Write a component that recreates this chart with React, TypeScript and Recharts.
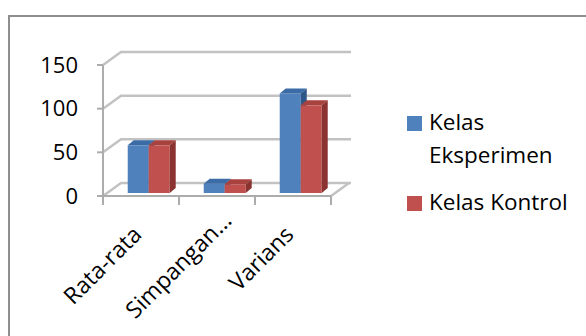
import { BarChart, Bar, XAxis, YAxis, CartesianGrid, Legend, ReferenceLine } from "recharts";

const categories = ["Rata-rata", "Simpangan Baku", "Varians"];
const kelasEksperimen = [54.6, 10.7, 114];
const kelasKontrol = [54.6, 10, 100.4];
const yTicks = [0, 50, 100, 150];

const data = categories.map((name, i) => ({
  name,
  eksperimen: kelasEksperimen[i],
  kontrol: kelasKontrol[i],
}));

const FONT = "'Open Sans', sans-serif";
const AXIS = "#acacac";
const GRID = "#c2c2c2";
// fake 3d depth of the walls and of the bars
const WALL_DX = 18;
const WALL_DY = 13;
const BAR_DX = 6;
const BAR_DY = 5;
const SHIFT_X = 8;
const SHIFT_Y = 3;

const box = (front: string, top: string, side: string) => (p: any) => {
  const x = p.x + SHIFT_X;
  const y = p.y - SHIFT_Y;
  const w = p.width;
  const h = p.height;
  if (!w || h == null) return <g />;
  return (
    <g>
      <rect x={x} y={y} width={w} height={h} fill={front} />
      <polygon
        points={`${x},${y} ${x + BAR_DX},${y - BAR_DY} ${x + w + BAR_DX},${y - BAR_DY} ${x + w},${y}`}
        fill={top}
      />
      <polygon
        points={`${x + w},${y} ${x + w + BAR_DX},${y - BAR_DY} ${x + w + BAR_DX},${y + h - BAR_DY} ${x + w},${y + h}`}
        fill={side}
      />
    </g>
  );
};

const wallLine = (p: any) => (
  <polyline
    key={`wall-${p.index}`}
    points={`${p.x1},${p.y1} ${p.x1 + WALL_DX},${p.y1 - WALL_DY} ${p.x2 + WALL_DX + 2},${p.y1 - WALL_DY}`}
    fill="none"
    stroke={GRID}
    strokeWidth={2.5}
  />
);

const floorEdge = (p: any) => (
  <line
    x1={p.x2}
    y1={p.y1}
    x2={p.x2 + WALL_DX}
    y2={p.y1 - WALL_DY}
    stroke={GRID}
    strokeWidth={2.5}
  />
);

const MAX_LABEL = 10;

const CategoryTick = (props: any) => {
  const { x, y, payload, index, visibleTicksCount } = props;
  const half = payload.offset ?? 38;
  const raw = String(payload.value);
  const cut = raw.length > MAX_LABEL;
  const label = cut ? raw.slice(0, 9) + "..." : raw;
  // truncated labels sit further up along their slant, like excel does
  const along = cut ? 14 : 0;
  return (
    <g>
      <line x1={x - half} y1={y} x2={x - half} y2={y + 9} stroke={AXIS} strokeWidth={2} />
      {index === visibleTicksCount - 1 && (
        <line x1={x + half} y1={y} x2={x + half} y2={y + 9} stroke={AXIS} strokeWidth={2} />
      )}
      <text
        transform={`translate(${x + 2 + along},${y + 40 - along}) rotate(-45)`}
        textAnchor="end"
        fill="#000"
        fontSize={23}
        fontFamily={FONT}
      >
        {label}
      </text>
    </g>
  );
};

const LegendBox = (props: any) => (
  <div style={{ fontFamily: FONT, fontSize: 22.5, lineHeight: "33px", color: "#000" }}>
    {(props.payload || []).map((it: any, i: number) => (
      <div key={it.value} style={{ display: "flex", alignItems: "flex-start", marginTop: i ? 14 : 0 }}>
        <span
          style={{ width: 15, height: 15, background: it.color, marginTop: 11, marginRight: 7, flex: "none" }}
        />
        <span style={{ width: 152 }}>{it.value}</span>
      </div>
    ))}
  </div>
);

export default function App() {
  return (
    <div
      style={{
        position: "fixed",
        left: 8,
        top: 15,
        width: 600,
        height: 340,
        borderTop: "2px solid #8e8e8e",
        borderLeft: "2px solid #8e8e8e",
        background: "#fff",
      }}
    >
      <BarChart
        width={578}
        height={319}
        data={data}
        margin={{ top: 48, right: 257, left: 0, bottom: 40 }}
        barCategoryGap="22%"
        barGap={0}
      >
        <CartesianGrid vertical={false} horizontal={wallLine} />
        <ReferenceLine y={0} shape={floorEdge} />
        <XAxis
          dataKey="name"
          height={100}
          tickSize={0}
          tickMargin={0}
          tickLine={false}
          axisLine={{ stroke: AXIS, strokeWidth: 2 }}
          tick={<CategoryTick />}
          interval={0}
        />
        <YAxis
          domain={[0, 150]}
          ticks={yTicks}
          width={93}
          tickSize={6}
          tickMargin={19}
          interval={0}
          axisLine={{ stroke: AXIS, strokeWidth: 2 }}
          tickLine={{ stroke: AXIS, strokeWidth: 2 }}
          tick={{ fill: "#000", fontSize: 22, fontFamily: FONT }}
        />
        <Legend
          layout="vertical"
          align="center"
          verticalAlign="middle"
          wrapperStyle={{ left: 397, top: 88, width: 180 }}
          content={<LegendBox />}
        />
        <Bar
          dataKey="eksperimen"
          name="Kelas Eksperimen"
          fill="#4F81BD"
          shape={box("#4F81BD", "#3B6CA8", "#2E5687")}
          isAnimationActive={false}
        />
        <Bar
          dataKey="kontrol"
          name="Kelas Kontrol"
          fill="#C0504D"
          shape={box("#C0504D", "#A8423F", "#8A3331")}
          isAnimationActive={false}
        />
      </BarChart>
    </div>
  );
}
